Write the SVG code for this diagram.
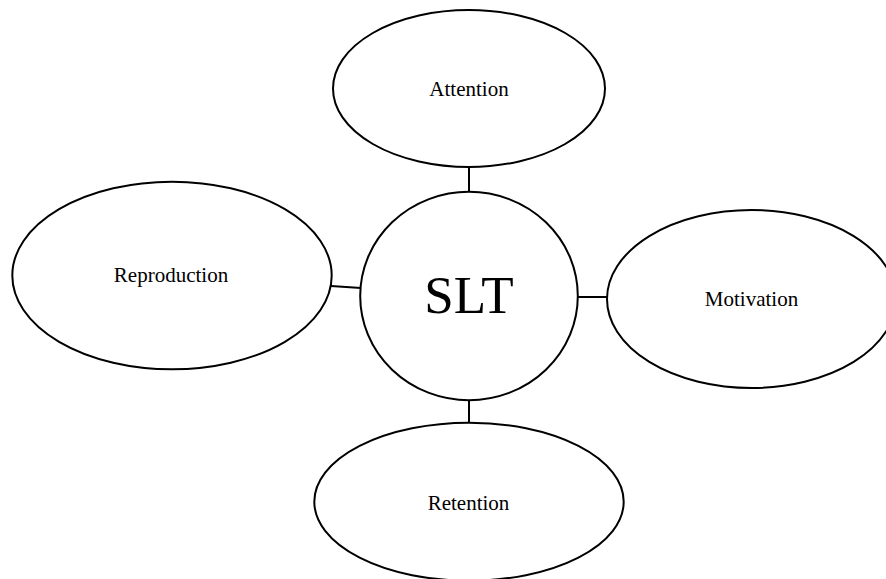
<svg xmlns="http://www.w3.org/2000/svg" width="886" height="579" viewBox="0 0 886 579">
<style>
.n{fill:#fff;stroke:#000;stroke-width:2}
.c{stroke:#000;stroke-width:2;fill:none}
text{font-family:"Liberation Serif","Times New Roman",serif;fill:#000;text-anchor:middle}
.l{font-size:21px}
.big{font-size:53px}
</style>
<rect width="886" height="579" fill="#fff"/>
<g id="connectors">
<line class="c" x1="469" y1="166" x2="469" y2="192"/>
<line class="c" x1="331" y1="286" x2="361" y2="288"/>
<line class="c" x1="577" y1="297" x2="608" y2="297"/>
<line class="c" x1="469" y1="399" x2="469" y2="423"/>
</g>
<g id="attention">
<ellipse class="n" cx="469" cy="88.5" rx="136" ry="78.5"/>
<text class="l" x="469" y="96">Attention</text>
</g>
<g id="reproduction">
<ellipse class="n" cx="172" cy="275.5" rx="159.7" ry="93.8"/>
<text class="l" x="171" y="282">Reproduction</text>
</g>
<g id="slt">
<ellipse class="n" cx="469" cy="296" rx="108.8" ry="104.2"/>
<text class="big" x="469" y="313">SLT</text>
</g>
<g id="motivation">
<ellipse class="n" cx="751.5" cy="299" rx="144.5" ry="89"/>
<text class="l" x="751.5" y="306">Motivation</text>
</g>
<g id="retention">
<ellipse class="n" cx="469" cy="501.7" rx="154.7" ry="79"/>
<text class="l" x="468.5" y="510">Retention</text>
</g>
</svg>
